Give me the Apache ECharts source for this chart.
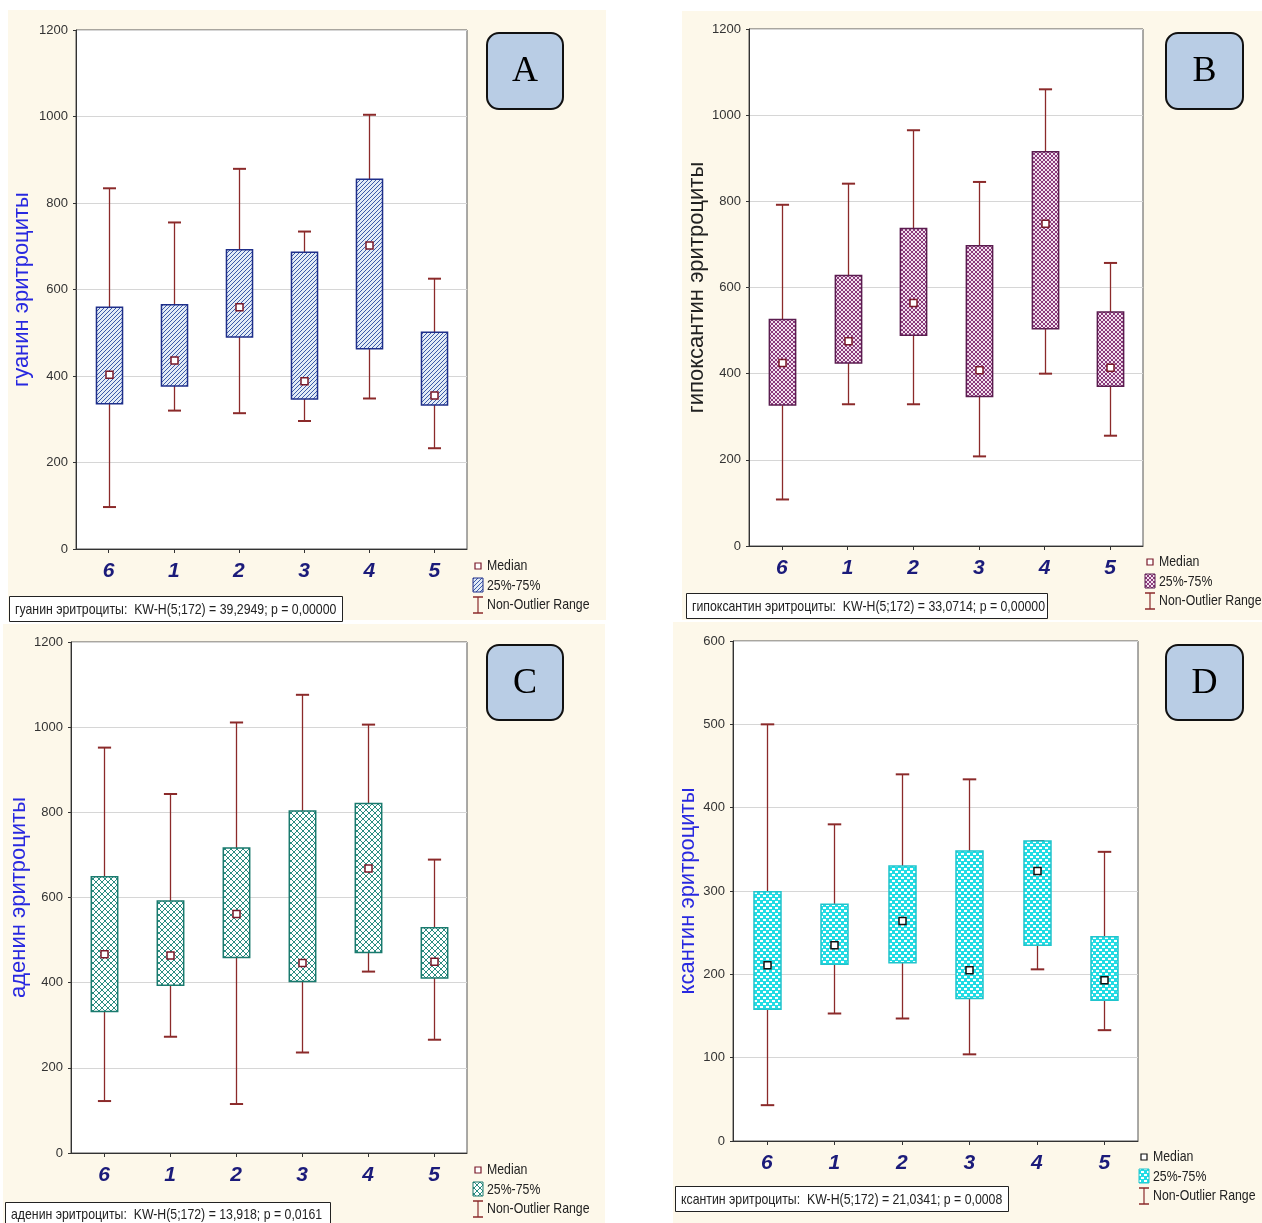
<!DOCTYPE html>
<html><head><meta charset="utf-8">
<script src="https://cdn.jsdelivr.net/npm/echarts@6/dist/echarts.min.js"></script>
<style>html,body{margin:0;padding:0;background:#fff}#c{width:1262px;height:1223px}</style>
</head><body><div id="c"></div>
<script>
// ---------- DATA ----------
const categories = ['6', '1', '2', '3', '4', '5'];
// A: гуанин
const guaninLow  = [97, 320, 314, 296, 348, 233];
const guaninQ1   = [336, 377, 490, 347, 463, 333];
const guaninMed  = [403, 436, 559, 388, 702, 355];
const guaninQ3   = [559, 565, 692, 686, 855, 501];
const guaninHigh = [834, 755, 879, 734, 1004, 625];
// B: гипоксантин
const hypoLow  = [108, 329, 329, 208, 400, 256];
const hypoQ1   = [327, 425, 489, 347, 504, 371];
const hypoMed  = [425, 475, 564, 408, 748, 414];
const hypoQ3   = [526, 628, 737, 697, 915, 543];
const hypoHigh = [792, 841, 965, 845, 1060, 657];
// C: аденин
const adenLow  = [122, 273, 115, 236, 426, 266];
const adenQ1   = [332, 394, 459, 403, 471, 411];
const adenMed  = [467, 464, 561, 446, 668, 449];
const adenQ3   = [649, 592, 716, 803, 821, 529];
const adenHigh = [952, 843, 1011, 1076, 1006, 689];
// D: ксантин
const xantLow  = [43, 153, 147, 104, 206, 133];
const xantQ1   = [158, 212, 214, 171, 235, 169];
const xantMed  = [211, 235, 264, 205, 324, 193];
const xantQ3   = [299, 284, 330, 348, 360, 245];
const xantHigh = [500, 380, 440, 434, 360, 347];

const axisNames = ['гуанин эритроциты', 'гипоксантин эритроциты', 'аденин эритроциты', 'ксантин эритроциты'];
const statTexts = [
  'гуанин эритроциты:  KW-H(5;172) = 39,2949; p = 0,00000',
  'гипоксантин эритроциты:  KW-H(5;172) = 33,0714; p = 0,00000',
  'аденин эритроциты:  KW-H(5;172) = 13,918; p = 0,0161',
  'ксантин эритроциты:  KW-H(5;172) = 21,0341; p = 0,0008'
];
const panelLetters = ['A', 'B', 'C', 'D'];
const legendLabels = ['Median', '25%-75%', 'Non-Outlier Range'];
const yMaxes = [1200, 1200, 1200, 600];
const yIntervals = [200, 200, 200, 100];

// ---------- PATTERNS ----------
function tile(w, h, bg, fg, rects) {
  const c = document.createElement('canvas');
  c.width = w; c.height = h;
  const g = c.getContext('2d');
  g.fillStyle = bg; g.fillRect(0, 0, w, h);
  g.fillStyle = fg;
  rects.forEach(r => g.fillRect(r[0], r[1], r[2] || 1, r[3] || 1));
  return {image: c, repeat: 'repeat'};
}
const patA = tile(4, 4, '#e2ebf6', '#3c5aa8', [[0,3],[1,2],[2,1],[3,0]]);
const bx = []; for (let i = 0; i < 4; i++) { bx.push([i, i]); bx.push([i, 3 - i]); }
const patB = tile(4, 4, '#f2e2ee', '#8a3a7c', bx);
const cx = []; for (let i = 0; i < 6; i++) { cx.push([i, i]); cx.push([i, 5 - i]); }
const patC = tile(6, 6, '#ffffff', '#2a8c80', cx);
const patD = tile(6, 6, '#22dce4', '#ffffff', [[1,1,3,2],[4,4,2,2],[0,4,1,2]]);

const styles = [
  {pat: patA, border: '#1f2f8a', medStroke: '#7a1a2a', nameColor: '#2828e0'},
  {pat: patB, border: '#5b1d50', medStroke: '#7a1a2a', nameColor: '#222222'},
  {pat: patC, border: '#1a7a6e', medStroke: '#7a1a2a', nameColor: '#2828e0'},
  {pat: patD, border: '#20c4cc', medStroke: '#111111', nameColor: '#2828e0'}
];
const whiskerColor = '#8b2a2a';

const grids = [
  {left: 76, top: 30, width: 391, height: 519},
  {left: 749, top: 29, width: 394, height: 517},
  {left: 71, top: 642, width: 396, height: 511},
  {left: 733, top: 641, width: 405, height: 500}
];
const nameGaps = [43, 38, 40, 34];

function buildData(lo, q1, md, q3, hi) {
  return categories.map((c, i) => [i, lo[i], q1[i], md[i], q3[i], hi[i]]);
}
const seriesData = [
  buildData(guaninLow, guaninQ1, guaninMed, guaninQ3, guaninHigh),
  buildData(hypoLow, hypoQ1, hypoMed, hypoQ3, hypoHigh),
  buildData(adenLow, adenQ1, adenMed, adenQ3, adenHigh),
  buildData(xantLow, xantQ1, xantMed, xantQ3, xantHigh)
];

function makeRender(st) {
  return function (params, api) {
    const x = api.value(0);
    const lo = api.coord([x, api.value(1)]);
    const q1 = api.coord([x, api.value(2)]);
    const md = api.coord([x, api.value(3)]);
    const q3 = api.coord([x, api.value(4)]);
    const hi = api.coord([x, api.value(5)]);
    const band = api.size([1, 0])[0];
    const bw = band * 0.4, cw = band * 0.2;
    const cX = Math.round(lo[0]) + 0.5;
    const ls = {stroke: whiskerColor, lineWidth: 1.3};
    return {type: 'group', children: [
      {type: 'line', shape: {x1: cX, y1: lo[1], x2: cX, y2: q1[1]}, style: ls},
      {type: 'line', shape: {x1: cX, y1: q3[1], x2: cX, y2: hi[1]}, style: ls},
      {type: 'line', shape: {x1: cX - cw / 2, y1: lo[1], x2: cX + cw / 2, y2: lo[1]}, style: {stroke: whiskerColor, lineWidth: 2}},
      {type: 'line', shape: {x1: cX - cw / 2, y1: hi[1], x2: cX + cw / 2, y2: hi[1]}, style: {stroke: whiskerColor, lineWidth: 2}},
      {type: 'rect', shape: {x: cX - bw / 2, y: q3[1], width: bw, height: q1[1] - q3[1]},
        style: {fill: st.pat, stroke: st.border, lineWidth: 1.5}},
      {type: 'rect', shape: {x: cX - 3.5, y: md[1] - 3.5, width: 7, height: 7},
        style: {fill: '#ffffff', stroke: st.medStroke, lineWidth: 1.5}}
    ]};
  };
}

const sans = '"Liberation Sans", Arial, sans-serif';

const option = {
  backgroundColor: '#ffffff',
  animation: false,
  grid: grids.map(g => Object.assign({show: true, backgroundColor: '#ffffff', borderColor: '#555', borderWidth: 1}, g)),
  xAxis: grids.map((g, i) => ({
    type: 'category', gridIndex: i, data: categories,
    axisLine: {lineStyle: {color: '#333', width: 1}},
    axisTick: {show: true, alignWithLabel: true, length: 4, lineStyle: {color: '#333'}},
    axisLabel: {fontSize: 21, fontWeight: 'bold', fontStyle: 'italic', color: '#1b1b7a', margin: 12, fontFamily: sans},
    splitLine: {show: false}
  })),
  yAxis: grids.map((g, i) => ({
    type: 'value', gridIndex: i, min: 0, max: yMaxes[i], interval: yIntervals[i],
    name: axisNames[i], nameLocation: 'middle', nameRotate: 90, nameGap: nameGaps[i],
    nameTextStyle: {color: styles[i].nameColor, fontSize: 22, fontFamily: sans},
    axisLine: {show: true, lineStyle: {color: '#333', width: 1}},
    axisTick: {show: true, length: 3, lineStyle: {color: '#333'}},
    axisLabel: {fontSize: 13, color: '#333', margin: 8, fontFamily: sans, formatter: v => String(v)},
    splitLine: {show: true, lineStyle: {color: '#d6d6d6', width: 1}}
  })),
  series: seriesData.map((d, i) => ({
    type: 'custom', xAxisIndex: i, yAxisIndex: i,
    renderItem: makeRender(styles[i]),
    encode: {x: 0, y: [1, 2, 3, 4, 5]},
    data: d, z: 5
  })),
  graphic: {elements: []}
};

// Panel backgrounds and annotation layout
const panels = [
  {x: 8, y: 10, w: 598, h: 610},
  {x: 682, y: 11, w: 580, h: 609},
  {x: 3, y: 624, w: 602, h: 599},
  {x: 673, y: 622, w: 589, h: 601}
];
const letterBoxes = [
  {x: 487, y: 33, w: 76, h: 76},
  {x: 1166, y: 33, w: 77, h: 76},
  {x: 487, y: 645, w: 76, h: 75},
  {x: 1166, y: 645, w: 77, h: 75}
];
const statBoxes = [
  {x: 9, y: 596, w: 333, h: 25},
  {x: 686, y: 593, w: 361, h: 25},
  {x: 5, y: 1202, w: 325, h: 24},
  {x: 675, y: 1186, w: 333, h: 25}
];
const legendPos = [
  {x: 478, y: 566},
  {x: 1150, y: 562},
  {x: 478, y: 1170},
  {x: 1144, y: 1157}
];
const el = option.graphic.elements;
function narrowText(t, x, y, size, fill) {
  return {type: 'text', z: 101, x: x, y: y, scaleX: 0.82, scaleY: 1,
    style: {text: t, x: 0, y: 0, textAlign: 'left', textVerticalAlign: 'middle', align: 'left', verticalAlign: 'middle',
      font: size + 'px ' + sans, fill: fill}};
}
panels.forEach(p => el.push({type: 'rect', z: -100, shape: {x: p.x, y: p.y, width: p.w, height: p.h}, style: {fill: '#fdf8ea'}, silent: true}));
letterBoxes.forEach((b, i) => {
  el.push({type: 'rect', z: 100, shape: {x: b.x, y: b.y, width: b.w, height: b.h, r: 12}, style: {fill: '#b9cde5', stroke: '#111', lineWidth: 2}});
  el.push({type: 'text', z: 101, style: {text: panelLetters[i], x: b.x + b.w / 2, y: b.y + b.h / 2 + 1, textAlign: 'center', textVerticalAlign: 'middle', align: 'center', verticalAlign: 'middle', font: '36px "Liberation Serif", "Times New Roman", serif', fill: '#000'}});
});
statBoxes.forEach((b, i) => {
  el.push({type: 'rect', z: 100, shape: {x: b.x + 0.5, y: b.y + 0.5, width: b.w, height: b.h}, style: {fill: '#ffffff', stroke: '#222', lineWidth: 1}});
  el.push(narrowText(statTexts[i], b.x + 6, b.y + b.h / 2 + 1, 15, '#222'));
});
legendPos.forEach((p, i) => {
  const st = styles[i];
  el.push({type: 'rect', z: 100, shape: {x: p.x - 3, y: p.y - 3, width: 6, height: 6}, style: {fill: '#fff', stroke: st.medStroke, lineWidth: 1.2}});
  el.push({type: 'rect', z: 100, shape: {x: p.x - 5, y: p.y + 19 - 7, width: 10, height: 14}, style: {fill: st.pat, stroke: st.border, lineWidth: 1}});
  const yw = p.y + 39;
  el.push({type: 'line', z: 100, shape: {x1: p.x, y1: yw - 8, x2: p.x, y2: yw + 8}, style: {stroke: whiskerColor, lineWidth: 1.2}});
  el.push({type: 'line', z: 100, shape: {x1: p.x - 5, y1: yw - 8, x2: p.x + 5, y2: yw - 8}, style: {stroke: whiskerColor, lineWidth: 1.5}});
  el.push({type: 'line', z: 100, shape: {x1: p.x - 5, y1: yw + 8, x2: p.x + 5, y2: yw + 8}, style: {stroke: whiskerColor, lineWidth: 1.5}});
  legendLabels.forEach((t, k) => {
    el.push(narrowText(t, p.x + 9, p.y + k * 19.5, 15, '#222'));
  });
});

const chart = echarts.init(document.getElementById('c'), null, {renderer: 'canvas'});
chart.setOption(option);
</script>
</body></html>
